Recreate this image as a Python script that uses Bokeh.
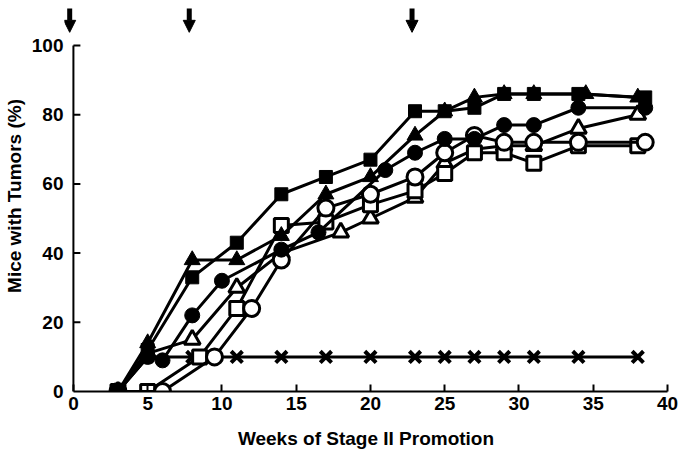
from bokeh.plotting import figure
from bokeh.models import Range1d, FixedTicker, Arrow, NormalHead, ColumnDataSource
from bokeh.embed import file_html
from bokeh.resources import INLINE

# Weeks of stage II promotion and % mice with tumors, per group
weeks_fsq = [3, 5, 8, 11, 14, 17, 20, 23, 25, 27, 29, 31, 34, 38.5]
pct_fsq = [0, 12, 33, 43, 57, 62, 67, 81, 81, 82, 86, 86, 86, 85]

weeks_ftri = [3, 5, 8, 11, 14, 17, 20, 23, 25, 27, 29, 31, 34.5, 38]
pct_ftri = [0, 14, 38, 38, 45, 57, 62, 74, 81, 85, 86, 86, 86, 85]

weeks_fci = [3, 5, 6, 8, 10, 14, 16.5, 21, 23, 25, 27, 29, 31, 34, 38.5]
pct_fci = [0, 10, 9, 22, 32, 41, 46, 64, 69, 73, 73, 77, 77, 82, 82]

weeks_osq = [3, 5, 8.5, 11, 14, 17, 20, 23, 25, 27, 29, 31, 34, 38]
pct_osq = [0, 0, 10, 24, 48, 49, 54, 58, 63, 69, 69, 66, 71, 71]

weeks_oci = [3, 6, 9.5, 12, 14, 17, 20, 23, 25, 27, 29, 31, 34, 38.5]
pct_oci = [0, 0, 10, 24, 38, 53, 57, 62, 69, 74, 72, 72, 72, 72]

weeks_otri = [3, 5, 8, 11, 14, 18, 20, 23, 25, 27, 29, 31, 34, 38]
pct_otri = [0, 11, 15, 30, 40, 46, 50, 56, 66, 70, 71, 71, 76, 80]

weeks_x = [3, 5, 8, 9, 11, 14, 17, 20, 23, 25, 27, 29, 31, 34, 38]
pct_x = [0, 10, 10, 10, 10, 10, 10, 10, 10, 10, 10, 10, 10, 10, 10]

# Treatment times (arrows)
arrow_weeks = [-0.25, 7.8, 22.8]

x_ticks = [0, 5, 10, 15, 20, 25, 30, 35, 40]
y_ticks = [0, 20, 40, 60, 80, 100]

FONT = "Liberation Sans Narrow, Liberation Sans, sans-serif"

p = figure(width=680, height=460, x_range=Range1d(-0.6, 40), y_range=Range1d(0, 113),
           output_backend="svg", toolbar_location=None,
           min_border_left=64, min_border_right=13, min_border_top=0, min_border_bottom=69)
p.outline_line_color = None
p.xgrid.grid_line_color = None
p.ygrid.grid_line_color = None
p.background_fill_color = "white"

p.xaxis.ticker = FixedTicker(ticks=x_ticks)
p.yaxis.ticker = FixedTicker(ticks=y_ticks)
p.xaxis.bounds = (0, 40)
p.yaxis.bounds = (0, 100)
for ax in (p.xaxis, p.yaxis):
    ax.axis_line_width = 2
    ax.axis_line_color = "black"
    ax.major_tick_line_width = 2
    ax.major_tick_line_color = "black"
    ax.major_tick_in = 7
    ax.major_tick_out = 0
    ax.minor_tick_line_color = None
    ax.major_label_text_font = FONT
    ax.major_label_text_font_style = "bold"
    ax.major_label_text_font_size = "19px"
    ax.major_label_text_color = "black"
    ax.axis_label_text_font = FONT
    ax.axis_label_text_font_style = "bold"
    ax.axis_label_text_font_size = "19px"
    ax.axis_label_text_color = "black"
p.xaxis.major_label_standoff = 5
p.xaxis.axis_label = "Weeks of Stage II Promotion"
p.xaxis.axis_label_standoff = 15
# y axis: labels from the axis; its line sits at week 0 (drawn below)
p.yaxis.axis_line_color = None
p.yaxis.major_tick_line_color = None
p.yaxis.major_label_standoff = 1
p.yaxis.axis_label = "Mice with Tumors (%)"
p.yaxis.axis_label_standoff = 4

# vertical axis line at week 0 with inward ticks
p.segment(x0=[0], y0=[y_ticks[0]], x1=[0], y1=[y_ticks[-1]], line_color="black", line_width=2)
p.segment(x0=[0] * (len(y_ticks) - 1), y0=y_ticks[1:], x1=[0.47] * (len(y_ticks) - 1), y1=y_ticks[1:],
          line_color="black", line_width=2)

LW = 3

# X series
p.line(weeks_x, pct_x, line_color="black", line_width=LW)
p.scatter(weeks_x, pct_x, marker="x", size=16, line_color="black", line_width=4)

# open series
p.line(weeks_otri, pct_otri, line_color="black", line_width=LW)
p.scatter(weeks_otri, pct_otri, marker="triangle", size=16, line_color="black",
          fill_color="white", line_width=3)
p.line(weeks_osq, pct_osq, line_color="black", line_width=LW)
p.scatter(weeks_osq, pct_osq, marker="square", size=14, line_color="black",
          fill_color="white", line_width=3)
p.line(weeks_oci, pct_oci, line_color="black", line_width=LW)
p.scatter(weeks_oci, pct_oci, marker="circle", size=16, line_color="black",
          fill_color="white", line_width=3)

# filled series
p.line(weeks_fci, pct_fci, line_color="black", line_width=LW)
p.scatter(weeks_fci, pct_fci, marker="circle", size=15, line_color="black",
          fill_color="black", line_width=1)
p.line(weeks_ftri, pct_ftri, line_color="black", line_width=LW)
p.scatter(weeks_ftri, pct_ftri, marker="triangle", size=16, line_color="black",
          fill_color="black", line_width=1)
p.line(weeks_fsq, pct_fsq, line_color="black", line_width=LW)
p.scatter(weeks_fsq, pct_fsq, marker="square", size=13, line_color="black",
          fill_color="black", line_width=1)

# arrows for treatment times
asrc = ColumnDataSource(dict(x=arrow_weeks, y0=[110.7] * len(arrow_weeks), y1=[103.8] * len(arrow_weeks)))
p.add_layout(Arrow(source=asrc, x_start="x", y_start="y0", x_end="x", y_end="y1",
                   line_width=5, line_color="black",
                   end=NormalHead(size=12, fill_color="black", line_color="black", line_width=1)))

open("out.html", "w").write(file_html(p, INLINE))
